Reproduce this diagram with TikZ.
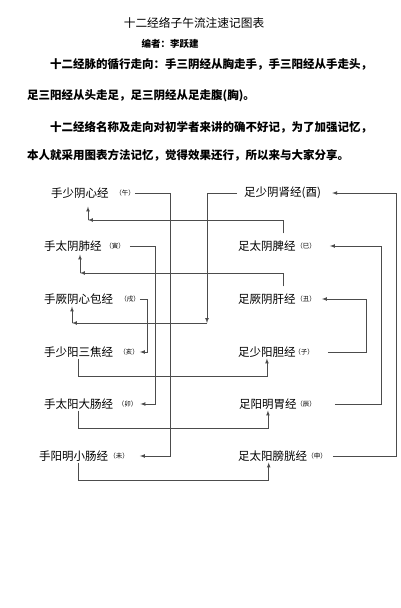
\documentclass[tikz,border=0pt]{standalone}
\usepackage{fontspec}
\setmainfont{Noto Sans CJK SC}
\begin{document}
\begin{tikzpicture}[x=1pt,y=-1pt,
  jing/.style={anchor=west,inner sep=1pt,font=\fontsize{11.5}{12}\selectfont},
  zhi/.style={inner sep=0pt,font=\fontsize{6.5}{7}\selectfont},
  para/.style={anchor=west,inner sep=0pt,font=\fontsize{11.5}{12}\bfseries\selectfont},
  link/.style={draw=black!70,line width=0.7pt},
  tip/.style={link,-latex}]
\useasboundingbox (0,0) rectangle (400,608);

% heading
\node[font=\fontsize{11.7}{12}\selectfont] (title) at (194,23) {十二经络子午流注速记图表};
\node[font=\fontsize{9.5}{10}\bfseries\selectfont] (author) at (170,44) {编者：李跃建};
\node[para] (p1) at (50,64) {十二经脉的循行走向：手三阴经从胸走手，手三阳经从手走头，};
\node[para] (p2) at (27,96) {足三阳经从头走足，足三阴经从足走腹(胸)。};
\node[para] (p3) at (50,127) {十二经络名称及走向对初学者来讲的确不好记，为了加强记忆，};
\node[para] (p4) at (27,155) {本人就采用图表方法记忆，觉得效果还行，所以来与大家分享。};

% hand meridians
\node[jing] (wu) at (50,193) {手少阴心经};
\node[zhi] (wu-z) at (125,193) {（午）};
\node[jing] (yin) at (43,246) {手太阴肺经};
\node[zhi] (yin-z) at (115,246) {（寅）};
\node[jing] (xu) at (43,299) {手厥阴心包经};
\node[zhi] (xu-z) at (130,299) {（戌）};
\node[jing] (hai) at (43,352) {手少阳三焦经};
\node[zhi] (hai-z) at (129,352) {（亥）};
\node[jing] (mao) at (43,404) {手太阳大肠经};
\node[zhi] (mao-z) at (127.5,404) {（卯）};
\node[jing] (wei) at (38,456) {手阳明小肠经};
\node[zhi] (wei-z) at (119,456) {（未）};

% foot meridians
\node[jing] (you) at (243,193) {足少阴肾经(酉)};
\node[jing] (si) at (237,246) {足太阴脾经};
\node[zhi] (si-z) at (306,246) {（巳）};
\node[jing] (chou) at (237,299) {足厥阴肝经};
\node[zhi] (chou-z) at (306,299) {（丑）};
\node[jing] (zi) at (237,352) {足少阳胆经};
\node[zhi] (zi-z) at (304,352) {（子）};
\node[jing] (chen) at (238,404) {足阳明胃经};
\node[zhi] (chen-z) at (306,404) {（辰）};
\node[jing] (shen) at (237,456) {足太阳膀胱经};
\node[zhi] (shen-z) at (317,456) {（申）};

\coordinate (k1) at (88,220);
\coordinate (k2) at (80,273);
\coordinate (k3) at (207,323);
\coordinate (k4) at (72,323);

% hand side
\draw[tip] (wu-z.east) -- (170,193) |- ([xshift=11pt]wei-z.east);
\draw[tip] ([xshift=5pt]yin-z.east) -- (155,246) |- ([xshift=3pt]mao-z.east);
\draw[tip] (xu-z.east) -- (147,299) |- ([xshift=1pt]hai-z.east);
\draw[tip] (hai.south) -- ++(0,18) -| (zi.south);
\draw[tip] (mao.south) -- ++(0,18) -| (chen.south);
\draw[tip] ([xshift=5pt]wei.south) -- ++(0,18) -| ([xshift=-4pt]shen.south);

% foot side
\draw[tip] ([xshift=14pt]zi-z.east) -- (366,352) |- ([xshift=6pt]chou-z.east);
\draw[tip] ([xshift=19pt]chen-z.east) -- (381,404) |- ([xshift=14pt]si-z.east);
\draw[tip] ([xshift=6pt]shen-z.east) -- (396,456) |- ([xshift=10pt]you.east);
\draw[tip] ([xshift=16pt,yshift=6pt]si.north) |- (k1);
\draw[tip,shorten >=7pt] (k1) -- (wu.south -| k1);
\draw[tip] ([xshift=16pt,yshift=6pt]chou.north) |- (k2);
\draw[tip,shorten >=2pt] (k2) -- (yin.south -| k2);
\draw[tip] ([xshift=-6pt]you.west) -| (k3);
\draw[tip] (k3) -- (k4);
\draw[tip,shorten >=1pt] (k4) -- (xu.south -| k4);
\end{tikzpicture}
\end{document}
